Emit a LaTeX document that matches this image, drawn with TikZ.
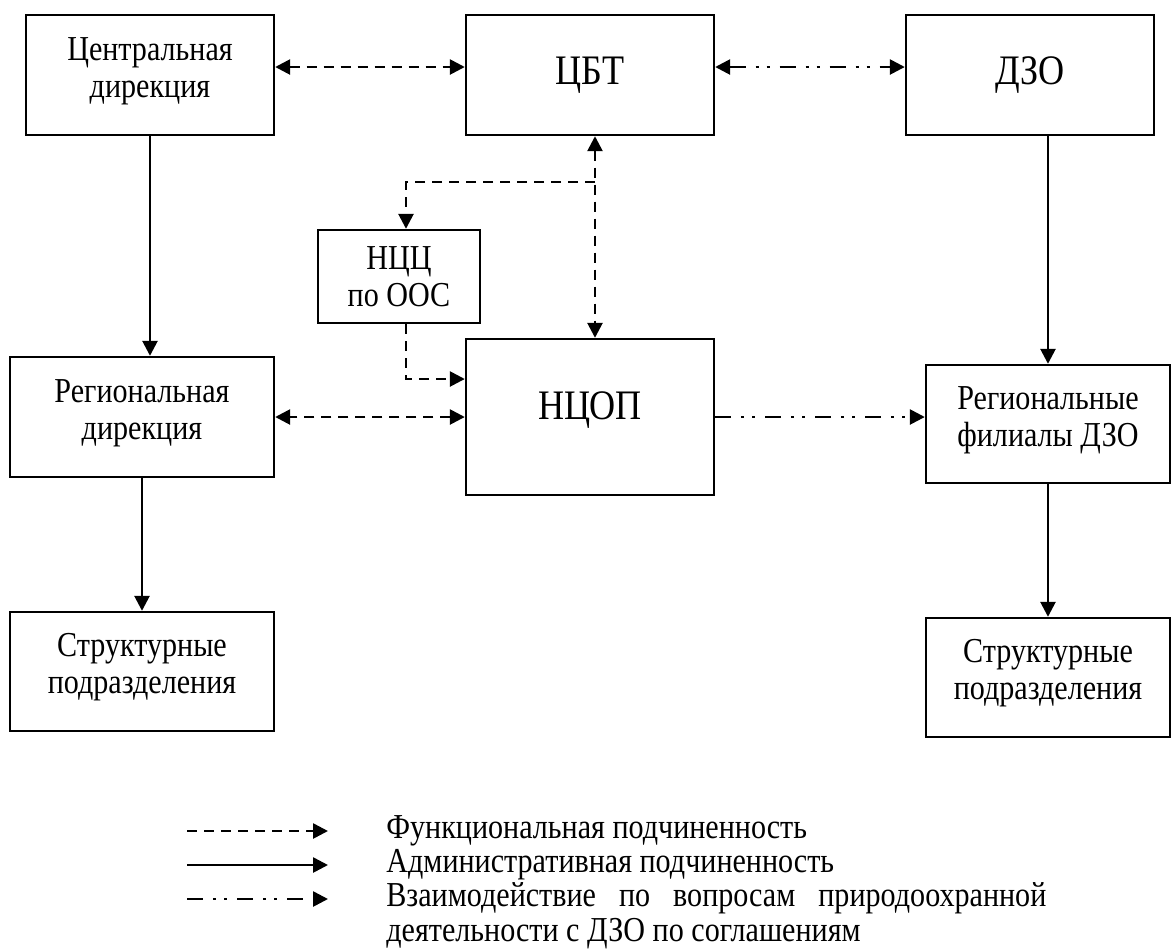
\documentclass[tikz,border=0pt]{standalone}
\usepackage{fontspec}
\setmainfont{Liberation Serif}[FakeStretch=0.86]
\usetikzlibrary{arrows.meta}
\tolerance=10000
\hyphenpenalty=10000

\tikzset{
  blok/.style={draw, line width=1.2pt, inner sep=0pt},
  txt/.style={align=center, font=\fontsize{17.5}{18.5}\selectfont},
  lbl/.style={txt, yshift=2pt},
  big/.style={align=center, font=\fontsize{21}{23}\selectfont},
  func/.style={line width=1.3pt, dash pattern=on 5pt off 3.5pt},
  adm/.style={line width=1.3pt},
  vzaim/.style={line width=1.3pt, dash pattern=on 8pt off 5pt on 1.5pt off 4pt on 1.5pt off 5pt},
}

\begin{document}
\begin{tikzpicture}[x=0.5pt, y=-0.5pt, >={Triangle[length=7.5pt,width=7.5pt]}]

    \useasboundingbox (0,0) rectangle (1175,950);

    % blocks
    \node[blok, minimum width=124pt, minimum height=60pt, label={[lbl]center:Центральная\\дирекция}] (centr) at (150,75) {};
    \node[blok, big, minimum width=124pt, minimum height=60pt] (cbt) at (590,75) {ЦБТ};
    \node[blok, big, minimum width=124pt, minimum height=60pt] (dzo) at (1030,75) {ДЗО};

    \node[blok, txt, minimum width=81pt, minimum height=46.5pt] (nccz) at (399,276.5) {НЦЦ\\по ООС};
    \node[blok, minimum width=124pt, minimum height=78pt, label={[big,yshift=3.5pt]center:НЦОП}] (ncop) at (590,417) {};

    \node[blok, minimum width=132pt, minimum height=60pt, label={[lbl]center:Региональная\\дирекция}] (reg) at (142,417) {};
    \node[blok, minimum width=122pt, minimum height=59pt, label={[lbl]center:Региональные\\филиалы ДЗО}] (fil) at (1048,424) {};

    \node[blok, minimum width=132pt, minimum height=59.5pt, label={[lbl]center:Структурные\\подразделения}] (strl) at (142,671.5) {};
    \node[blok, minimum width=122pt, minimum height=59.5pt, label={[lbl]center:Структурные\\подразделения}] (strr) at (1048,677.5) {};

    % connections
    \draw[func,<->] ([yshift=4pt]centr.east) -- ([yshift=4pt]centr.east -| cbt.west);
    \draw[vzaim,<->] ([yshift=4pt]cbt.east) -- ([yshift=4pt]cbt.east -| dzo.west);
    \draw[adm,->] (centr.south) -- (centr.south |- reg.north);
    \draw[adm,->] (dzo.south -| fil.north) -- (fil.north);
    \draw[func,<->] ([xshift=2.5pt]cbt.south) -- ([xshift=2.5pt]cbt.south |- ncop.north);
    \coordinate (razv) at (595,182);
    \draw[func,->] (razv) -| ([xshift=3.5pt]nccz.north);
    \draw[func,->] ([xshift=3.5pt]nccz.south) |- ([yshift=19pt]ncop.west);
    \draw[func,<->] (ncop.west |- reg.east) -- (reg.east);
    \draw[vzaim,->] (ncop.east) -- (ncop.east -| fil.west);
    \draw[adm,->] (reg.south) -- (reg.south |- strl.north);
    \draw[adm,->] (fil.south) -- (strr.north);

    % legend
    \coordinate (l1a) at (187,831);
    \coordinate (l1b) at (328,831);
    \coordinate (l2a) at (187,865);
    \coordinate (l2b) at (328,865);
    \coordinate (l3a) at (187,899);
    \coordinate (l3b) at (328,899);
    \draw[func,->] (l1a) -- (l1b);
    \draw[adm,->] (l2a) -- (l2b);
    \draw[vzaim,->] (l3a) -- (l3b);

    \node[txt, anchor=base west, inner sep=0pt] (t1) at (386,838) {Функциональная подчиненность};
    \node[txt, anchor=base west, inner sep=0pt] (t2) at (386,872) {Административная подчиненность};
    \node[anchor=north west, inner sep=0pt, text width=330pt, align=justify,
          font=\fontsize{17.5}{17.5}\selectfont] (t3) at (386,882)
          {Взаимодействие по вопросам природоохранной деятельности с ДЗО по соглашениям};

\end{tikzpicture}
\end{document}
